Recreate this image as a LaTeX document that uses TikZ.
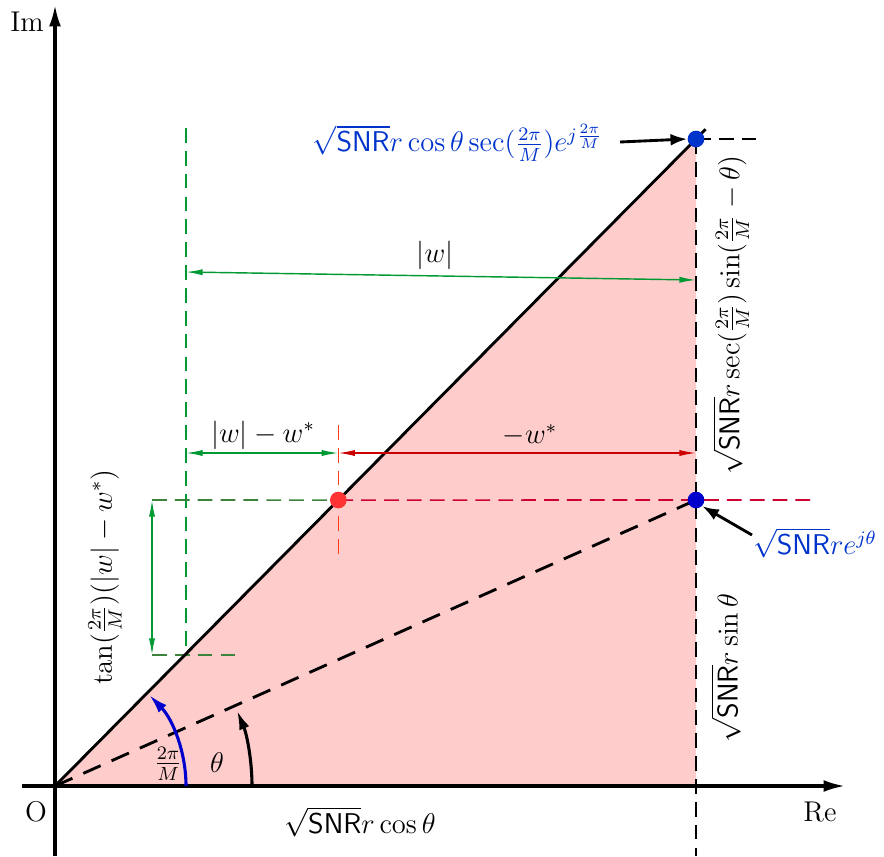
\documentclass[tikz,border=0pt]{standalone}
\usetikzlibrary{arrows.meta,calc}
\definecolor{dotblue}{RGB}{0,51,204}
\definecolor{arcblue}{RGB}{0,0,204}
\definecolor{dotred}{RGB}{255,51,51}
\definecolor{grn}{RGB}{0,153,51}
\definecolor{dgrn}{RGB}{60,130,60}
\definecolor{arrred}{RGB}{204,0,0}
\definecolor{crim}{RGB}{204,0,51}
\definecolor{ored}{RGB}{255,60,20}
\definecolor{pinkfill}{RGB}{255,204,204}
\tikzset{
  axis/.style={line width=1.3pt,-{Latex[length=9pt,width=5pt]}},
  thindash/.style={line width=0.65pt,dash pattern=on 6.2pt off 3.4pt},
  dimarrow/.style={line width=0.6pt,{Latex[length=7pt,width=2.6pt]}-{Latex[length=7pt,width=2.6pt]}},
  callout/.style={line width=1.2pt,-{Latex[length=7pt,width=5pt]}},
  pt/.style={circle,inner sep=0pt,minimum size=7pt},
  every node/.style={font=\fontsize{12}{14}\selectfont},
}
\begin{document}
\begin{tikzpicture}[x=0.42pt,y=0.42pt]
\useasboundingbox (0,0) rectangle (884,856);
\coordinate (O) at (55,70);
\coordinate (T) at (696,717);
\coordinate (P) at (696,356);
\coordinate (F) at (696,70);
\coordinate (R) at ($(O)!0.442!(T)$);
% fill
\fill[pinkfill] (O) -- (T) -- (F) -- cycle;
% axes
\draw[axis] (22,70) -- (845,70);
\draw[axis] (55,0) -- (55,851);
\node (im) at (27,834) {Im};
\node (re) at (820,44) {Re};
\node (o) at (36,44) {O};
% black dashed guides
\draw[thindash] (T) -- (696,0);
\draw[thindash] (T) -- (756,717);
% crimson / orange dashed
\draw[thindash,crim] (R) -- (812,356);
\draw[thindash,ored] (R |- 0,431) -- (R |- 0,298);
% green guides
\draw[thindash,grn] (186,728) -- (186,201);
\draw[thindash,dgrn] (152,356) -- (R);
\draw[thindash,dgrn] (152,201) -- (236,201);
% main lines
\draw[line width=1.2pt] (O) -- ($(O)!1.015!(T)$);
\draw[line width=1.2pt,dash pattern=on 8pt off 5pt] (O) -- (P);
% dimension arrows
\coordinate (w1) at (186,584);
\coordinate (w2) at (696,576);
\draw[dimarrow,grn] (w1) -- (w2);
\node (wlab) at (435,601) {$|w|$};
\coordinate (a1) at (186,403);
\coordinate (a2) at (R |- 0,403);
\coordinate (a3) at (696,403);
\draw[dimarrow,grn] (a1) -- (a2);
\draw[dimarrow,arrred] (a2) -- (a3);
\node (wwlab) at (263,421) {$|w|-w^*$};
\node (mwlab) at (530,421) {$-w^*$};
\coordinate (v1) at (152,356);
\coordinate (v2) at (152,201);
\draw[dimarrow,grn] (v1) -- (v2);
% arcs
\draw[arcblue,line width=1.3pt,-{Latex[length=8pt,width=4.5pt]}] ($(O)+(131,0)$) arc[start angle=0,end angle=44,radius=131];
\draw[black,line width=1.3pt,-{Latex[length=8pt,width=4.5pt]}] ($(O)+(197,0)$) arc[start angle=0,end angle=22.5,radius=197];
\node (ang1) at (168,92) {$\frac{2\pi}{M}$};
\node (ang2) at (217,93) {$\theta$};
% points
\node[pt,fill=dotblue] (Tp) at (T) {};
\node[pt,fill=arcblue] (Pp) at (P) {};
\node[pt,fill=dotred] (Rp) at (R) {};
% labels
\node (cosl) at (360,34) {$\sqrt{\mathsf{SNR}}r\cos\theta$};
\node[text=dotblue] (toplab) at (458,713) {$\sqrt{\mathsf{SNR}}r\cos\theta\sec(\frac{2\pi}{M})e^{j\frac{2\pi}{M}}$};
\coordinate (c1) at (620,714);
\draw[callout] (c1) -- (Tp.west);
\node[text=dotblue] (plab) at (815,313) {$\sqrt{\mathsf{SNR}}re^{j\theta}$};
\coordinate (c2) at (752,321);
\draw[callout] (c2) -- (Pp.south east);
\node[rotate=90] (rlab1) at (731,541) {$\sqrt{\mathsf{SNR}}r\sec(\frac{2\pi}{M})\sin(\frac{2\pi}{M}-\theta)$};
\node[rotate=90] (rlab2) at (726,188) {$\sqrt{\mathsf{SNR}}r\sin\theta$};
\node[rotate=90] (llab) at (105,279) {$\tan(\frac{2\pi}{M})(|w|-w^*)$};
\end{tikzpicture}
\end{document}
